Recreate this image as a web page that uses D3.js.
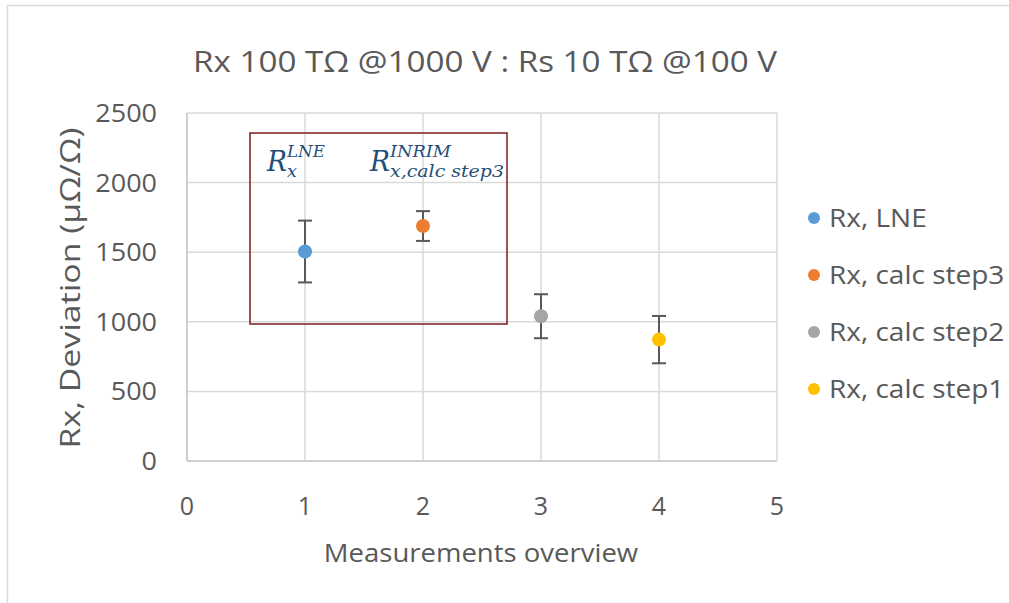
<!DOCTYPE html>
<html>
<head>
<meta charset="utf-8">
<script src="https://cdn.jsdelivr.net/npm/d3@7"></script>
<style>
  body { margin: 0; background: #fff; }
  text { font-family: "Open Sans", "Liberation Sans", sans-serif; fill: #595959; }
  .math { font-family: "DejaVu Serif", "Liberation Serif", serif; font-style: italic; fill: #1f4e79; }
</style>
</head>
<body>
<div id="chart"></div>
<script>
// series, one point each with a symmetric error bar
var names = ["Rx, LNE", "Rx, calc step3", "Rx, calc step2", "Rx, calc step1"]
var xs = [1, 2, 3, 4]
var values = [1505, 1688, 1040, 872]
var errors = [222, 107, 158, 170]
var colors = ["#5b9bd5", "#ed7d31", "#a5a5a5", "#ffc000"]
var xTicks = [0, 1, 2, 3, 4, 5]
var yTicks = [0, 500, 1000, 1500, 2000, 2500]

var W = 1009, H = 603
var margin = {top: 113, left: 187}
var width = 590, height = 348

var svg = d3.select("#chart").append("svg")
    .attr("width", W).attr("height", H)

// the original font is wider than Open Sans, stretch texts a bit
function stretch(sel, k) {
  sel.each(function() {
    var w = this.getComputedTextLength()
    d3.select(this).attr("textLength", w * k).attr("lengthAdjust", "spacingAndGlyphs")
  })
}

// outer chart border (only top/left visible in the photo)
svg.append("rect").attr("x", 7.5).attr("y", 5.5).attr("width", 1020).attr("height", 620)
  .attr("fill", "none").attr("stroke", "#d9d9d9").attr("stroke-width", 1.5)

var g = svg.append("g").attr("transform", "translate(" + margin.left + "," + margin.top + ")")

var x = d3.scaleLinear().domain([0, 5]).range([0, width])
var y = d3.scaleLinear().domain([0, 2500]).range([height, 0])

// gridlines
g.selectAll(".hgrid").data(yTicks).enter().append("line")
  .attr("x1", 0).attr("x2", width)
  .attr("y1", function(d){ return y(d) }).attr("y2", function(d){ return y(d) })
  .attr("stroke", function(d){ return d == 0 ? "#bfbfbf" : "#d9d9d9" }).attr("stroke-width", 1.5)
g.selectAll(".vgrid").data(xTicks).enter().append("line")
  .attr("y1", 0).attr("y2", height)
  .attr("x1", function(d){ return x(d) }).attr("x2", function(d){ return x(d) })
  .attr("stroke", function(d){ return d == 0 ? "#bfbfbf" : "#d9d9d9" }).attr("stroke-width", 1.5)

// tick labels
g.selectAll(".ylab").data(yTicks).enter().append("text")
  .attr("x", -30).attr("y", function(d){ return y(d) + 9 })
  .attr("text-anchor", "end").attr("font-size", "25px").text(function(d){ return d })
  .call(stretch, 1.08)
g.selectAll(".xlab").data(xTicks).enter().append("text")
  .attr("x", function(d){ return x(d) }).attr("y", height + 54)
  .attr("text-anchor", "middle").attr("font-size", "25px").text(function(d){ return d })

// axis titles
svg.append("text").attr("x", 481).attr("y", 562).attr("text-anchor", "middle")
  .attr("font-size", "25px").text("Measurements overview").call(stretch, 1.1)
svg.append("text").attr("transform", "translate(80,288) rotate(-90)").attr("text-anchor", "middle")
  .attr("font-size", "28px").text("Rx, Deviation (µΩ/Ω)")
  .attr("textLength", 321).attr("lengthAdjust", "spacingAndGlyphs")
svg.append("text").attr("x", 485).attr("y", 72).attr("text-anchor", "middle")
  .attr("font-size", "29px").text("Rx 100 TΩ @1000 V : Rs 10 TΩ @100 V")
  .attr("textLength", 584).attr("lengthAdjust", "spacingAndGlyphs")

// error bars
var pts = g.selectAll(".pt").data(names).enter().append("g")
pts.append("line")
  .attr("x1", function(d,i){ return x(xs[i]) }).attr("x2", function(d,i){ return x(xs[i]) })
  .attr("y1", function(d,i){ return y(values[i] + errors[i]) })
  .attr("y2", function(d,i){ return y(values[i] - errors[i]) })
  .attr("stroke", "#595959").attr("stroke-width", 2)
pts.append("line")
  .attr("x1", function(d,i){ return x(xs[i]) - 7 }).attr("x2", function(d,i){ return x(xs[i]) + 7 })
  .attr("y1", function(d,i){ return y(values[i] + errors[i]) })
  .attr("y2", function(d,i){ return y(values[i] + errors[i]) })
  .attr("stroke", "#595959").attr("stroke-width", 2)
pts.append("line")
  .attr("x1", function(d,i){ return x(xs[i]) - 7 }).attr("x2", function(d,i){ return x(xs[i]) + 7 })
  .attr("y1", function(d,i){ return y(values[i] - errors[i]) })
  .attr("y2", function(d,i){ return y(values[i] - errors[i]) })
  .attr("stroke", "#595959").attr("stroke-width", 2)
pts.append("circle")
  .attr("cx", function(d,i){ return x(xs[i]) })
  .attr("cy", function(d,i){ return y(values[i]) })
  .attr("r", 7).attr("fill", function(d,i){ return colors[i] })

// annotation box
svg.append("rect").attr("x", 250).attr("y", 133).attr("width", 257).attr("height", 191)
  .attr("fill", "none").attr("stroke", "#7b1c1c").attr("stroke-width", 1.5)

function label(x0, sup, sub, supW, subW) {
  svg.append("text").attr("class", "math").attr("x", x0).attr("y", 171)
    .attr("font-size", "27px").attr("textLength", 20).attr("lengthAdjust", "spacingAndGlyphs").text("R")
  svg.append("text").attr("class", "math").attr("x", x0 + 20).attr("y", 157)
    .attr("font-size", "17px").attr("textLength", supW).attr("lengthAdjust", "spacingAndGlyphs").text(sup)
  svg.append("text").attr("class", "math").attr("x", x0 + 20).attr("y", 177)
    .attr("font-size", "17px").attr("textLength", subW).attr("lengthAdjust", "spacingAndGlyphs").text(sub)
}
label(267, "LNE", "x", 38, 10)
label(370, "INRIM", "x,calc step3", 61, 114)

// legend
var leg = svg.selectAll(".leg").data(names).enter().append("g")
  .attr("transform", function(d,i){ return "translate(814," + (218 + i * 57) + ")" })
leg.append("circle").attr("r", 6).attr("fill", function(d,i){ return colors[i] })
leg.append("text").attr("x", 15).attr("y", 9).attr("font-size", "25px").text(function(d){ return d })
  .call(stretch, 1.12)
</script>
</body>
</html>
